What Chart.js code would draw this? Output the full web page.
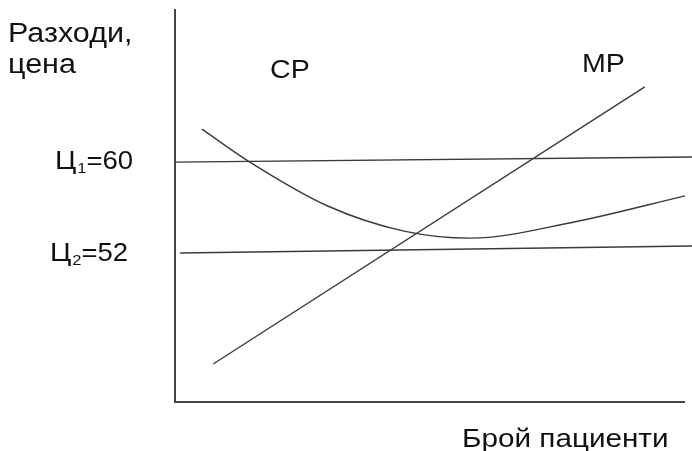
<!DOCTYPE html>
<html>
<head>
<meta charset="utf-8">
<script src="https://cdn.jsdelivr.net/npm/chart.js@4/dist/chart.umd.min.js"></script>
<style>
    html, body { margin: 0; padding: 0; background: #fff; }
    #wrap { width: 692px; height: 451px; }
</style>
</head>
<body>
<div id="wrap"><canvas id="grafico"></canvas></div>
<script>
// Datos (unidades arbitrarias: x = брой пациенти, y = разходи/цена)
const precio1X = [0, 101.6];
const precio1Y = [61.2, 62.5];
const precio2X = [1.0, 101.6];
const precio2Y = [38.0, 39.8];
const mpX = [7.5, 92.3];
const mpY = [9.7, 80.4];
const cpX = [5.3, 14.7, 30.0, 45.0, 58.0, 78.0, 100.2];
const cpY = [69.6, 61.2, 50.0, 43.6, 41.8, 45.8, 52.6];

const etiquetaY = ["Разходи,", "цена"];
const etiquetaX = "Брой пациенти";

const puntos = (xs, ys) => xs.map((x, i) => ({ x, y: ys[i] }));
const COLOR_LINEA = "#3a3a3a";

function serie(xs, ys, extra) {
    return Object.assign({
        data: puntos(xs, ys),
        borderColor: COLOR_LINEA,
        borderWidth: 1.4,
        pointRadius: 0,
        fill: false,
        clip: false,
        tension: 0,
    }, extra || {});
}

// texto con un poco de estiramiento horizontal, como en el original
function texto(ctx, str, x, y, size, sx) {
    sx = sx || 1.1;
    ctx.save();
    ctx.font = size + "px 'Liberation Sans', Arial, sans-serif";
    ctx.translate(x, y);
    ctx.scale(sx, 1);
    ctx.fillText(str, 0, 0);
    const w = ctx.measureText(str).width * sx;
    ctx.restore();
    return w;
}

function precioLabel(ctx, sub, resto, x, y) {
    let w = texto(ctx, "Ц", x, y, 25, 1.15) + 1;
    w += texto(ctx, sub, x + w, y + 4, 15);
    texto(ctx, resto, x + w, y, 25);
}

const textos = {
    id: "textos",
    afterDraw(chart) {
        const ctx = chart.ctx;
        ctx.save();
        ctx.fillStyle = "#111";
        ctx.textBaseline = "alphabetic";
        texto(ctx, etiquetaY[0], 8, 42, 27, 1.13);
        texto(ctx, etiquetaY[1], 8, 73, 27, 1.13);
        texto(ctx, "CP", 270, 78, 26);
        texto(ctx, "MP", 582, 72, 26);
        precioLabel(ctx, "1", "=60", 55, 169);
        precioLabel(ctx, "2", "=52", 50, 261);
        texto(ctx, etiquetaX, 462, 447, 26.5, 1.12);
        ctx.restore();
    },
};

new Chart(document.getElementById("grafico"), {
    type: "line",
    data: {
        datasets: [
            serie(precio1X, precio1Y),
            serie(precio2X, precio2Y),
            serie(mpX, mpY),
            serie(cpX, cpY, { tension: 0.4, cubicInterpolationMode: "monotone" }),
        ],
    },
    options: {
        responsive: true,
        maintainAspectRatio: false,
        animation: false,
        layout: { padding: { left: 175, top: 10, right: 8, bottom: 49 } },
        scales: {
            x: {
                type: "linear", min: 0, max: 100,
                grid: { display: false, drawTicks: false },
                ticks: { display: false },
                border: { display: true, color: "#444", width: 2 },
            },
            y: {
                type: "linear", min: 0, max: 100,
                grid: { display: false, drawTicks: false },
                ticks: { display: false },
                border: { display: true, color: "#444", width: 2 },
            },
        },
        plugins: { legend: { display: false }, tooltip: { enabled: false } },
    },
    plugins: [textos],
});
</script>
</body>
</html>
